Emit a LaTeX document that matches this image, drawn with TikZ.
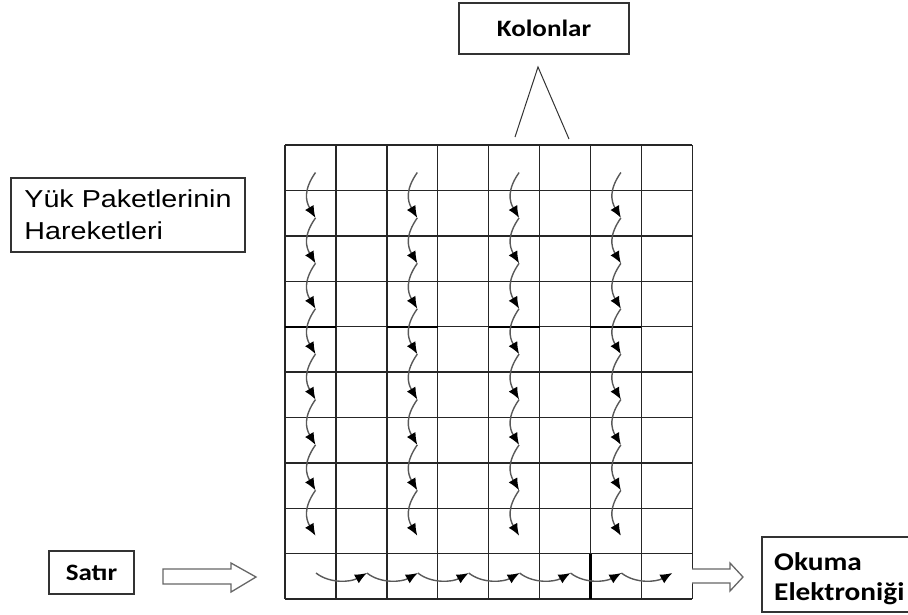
\documentclass[tikz,border=0pt]{standalone}
\usepackage{fontspec}
\usetikzlibrary{arrows.meta}
\newfontfamily\lblbold[FakeStretch=1.15]{Carlito}
\newfontfamily\lblsans[FakeStretch=1.17]{Liberation Sans}
\begin{document}
\begin{tikzpicture}[x=1pt,y=-1pt,
  frame/.style={draw=black!80, line width=1.2pt, inner sep=0pt},
  gridline/.style={draw=black!85, line width=1.4pt, line cap=square},
  heavyline/.style={draw=black, line width=2.2pt},
  thinline/.style={draw=black!80, line width=1pt},
  flow/.style={draw=black!65, line width=1.4pt, -{Latex[length=12pt,width=10pt,black]}},
  hollow/.style={draw=black!60, line width=1.3pt, fill=white, line join=miter},
  boldlabel/.style={font=\lblbold\bfseries\fontsize{23.5}{27}\selectfont},
  bigbold/.style={font=\lblbold\bfseries\fontsize{25.5}{30}\selectfont},
  sanslabel/.style={font=\lblsans\fontsize{24.5}{32}\selectfont}]
\useasboundingbox (0,0) rectangle (908,614);

% CCD pixel grid: 8 columns, 9 imaging rows plus the serial register row
\foreach \i in {0,...,8}
  \draw[gridline] (285+\i*50.9,145) -- (285+\i*50.9,599);
\foreach \j in {0,...,10}
  \draw[gridline] (285,145+\j*45.4) -- (692.2,145+\j*45.4);
\foreach \c in {0,2,4,6}
  \draw[heavyline] (285+\c*50.9,326.6) -- (335.9+\c*50.9,326.6);
\draw[heavyline] (590.4,553.6) -- (590.4,599);

% vertical charge transfer down the columns
\foreach \c in {0,2,4,6}{
  \foreach \k in {0,...,8}
    \coordinate (v\c-\k) at (315.5+\c*50.9,172.5+\k*45.4);
  \foreach \k in {0,...,7}{
    \pgfmathtruncatemacro\nxt{\k+1}
    \draw[flow] (v\c-\k) .. controls +(-12,17) and +(-10,-17) .. (v\c-\nxt);
  }
}

% horizontal transfer along the serial register
\foreach \k in {0,...,7}
  \coordinate (h\k) at (316+\k*50.9,573);
\foreach \k in {0,...,6}{
  \pgfmathtruncatemacro\nxt{\k+1}
  \draw[flow] (h\k) .. controls +(14,11) and +(-16,9) .. (h\nxt);
}

% column label
\node[frame, boldlabel, minimum width=170, minimum height=51] (kolon) at (544,28.5) {Kolonlar};
\coordinate (apex) at (538,67);
\coordinate (legL) at (515,137);
\coordinate (legR) at (569,139);
\draw[thinline] (legL) -- (apex) -- (legR);

% charge packet label
\node[frame, sanslabel, align=left, minimum width=234, minimum height=74] (yuk) at (128,215)
  {Y\"uk Paketlerinin\\Hareketleri};

% row label and block arrow into the register
\node[frame, boldlabel, minimum width=85, minimum height=43] (satir) at (91.5,572.5) {Sat\i r};
\draw[hollow] (163,569) -- (231,569) -- (231,563) -- (256,577) -- (231,592) -- (231,584) -- (163,584) -- cycle;

% block arrow out to the readout electronics
\draw[hollow] (692.2,569) -- (730,569) -- (730,563) -- (743,577) -- (730,591) -- (730,583) -- (692.2,583);
\draw[frame] (908,537) -- (762,537) -- (762,612) -- (908,612);
\node[bigbold, align=left, anchor=base west, inner sep=0pt] (okuma) at (774,600) {Okuma\\Elektroni\u{g}i};
\end{tikzpicture}
\end{document}
